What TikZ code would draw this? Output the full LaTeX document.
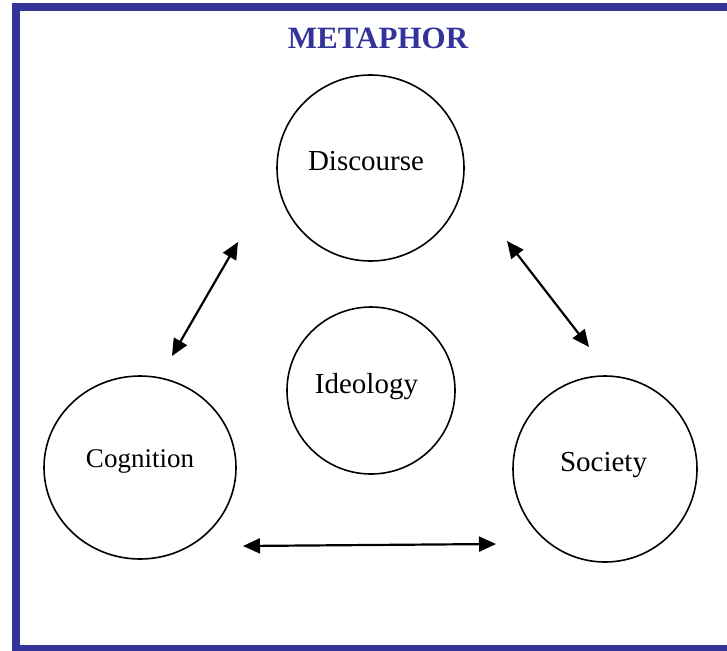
\documentclass[tikz,border=0pt]{standalone}
\usepackage{fontspec}
\setmainfont{Liberation Serif}
\usetikzlibrary{arrows.meta,shapes.geometric}
\definecolor{frameblue}{RGB}{51,51,153}
\begin{document}
\begin{tikzpicture}[x=1pt,y=-1pt,
  bubble/.style={ellipse,draw,line width=1.6pt,inner sep=0pt},
  lbl/.style={anchor=base,inner sep=0pt,font=\fontsize{29}{34}\selectfont},
  link/.style={{Triangle[length=17pt,width=15pt]}-{Triangle[length=17pt,width=15pt]},line width=2.2pt}]
\useasboundingbox (0,0) rectangle (727,650);
\begin{scope}
  \clip (0,0) rectangle (727,650);
  \draw[frameblue,line width=8pt] (16,7) rectangle (745,649);
\end{scope}
\node[anchor=base,inner sep=0pt,text=frameblue,font=\fontsize{31}{37}\selectfont\bfseries] (title) at (378,49) {METAPHOR};
% circles
\node[bubble,minimum width=187pt,minimum height=186pt] (disc) at (370.5,168) {};
\node[bubble,minimum width=168pt,minimum height=167pt] (ideo) at (371,390.5) {};
\node[bubble,minimum width=192pt,minimum height=183pt] (cogn) at (140,467.5) {};
\node[bubble,minimum width=184pt,minimum height=186pt] (soc) at (605,469) {};
% labels
\node[lbl] (disct) at (366,170) {Discourse};
\node[lbl] (ideot) at (366.5,393) {Ideology};
\node[lbl,font=\fontsize{27}{32}\selectfont] (cognt) at (140,467) {Cognition};
\node[lbl] (soct) at (603.5,471) {Society};
% arrows
\coordinate (a1s) at (238,242);
\coordinate (a1e) at (172,356);
\coordinate (a2s) at (507,241);
\coordinate (a2e) at (589,347);
\coordinate (a3s) at (243,546);
\coordinate (a3e) at (496,544);
\draw[link] (a1s) -- (a1e);
\draw[link] (a2s) -- (a2e);
\draw[link] (a3s) -- (a3e);
\end{tikzpicture}
\end{document}
